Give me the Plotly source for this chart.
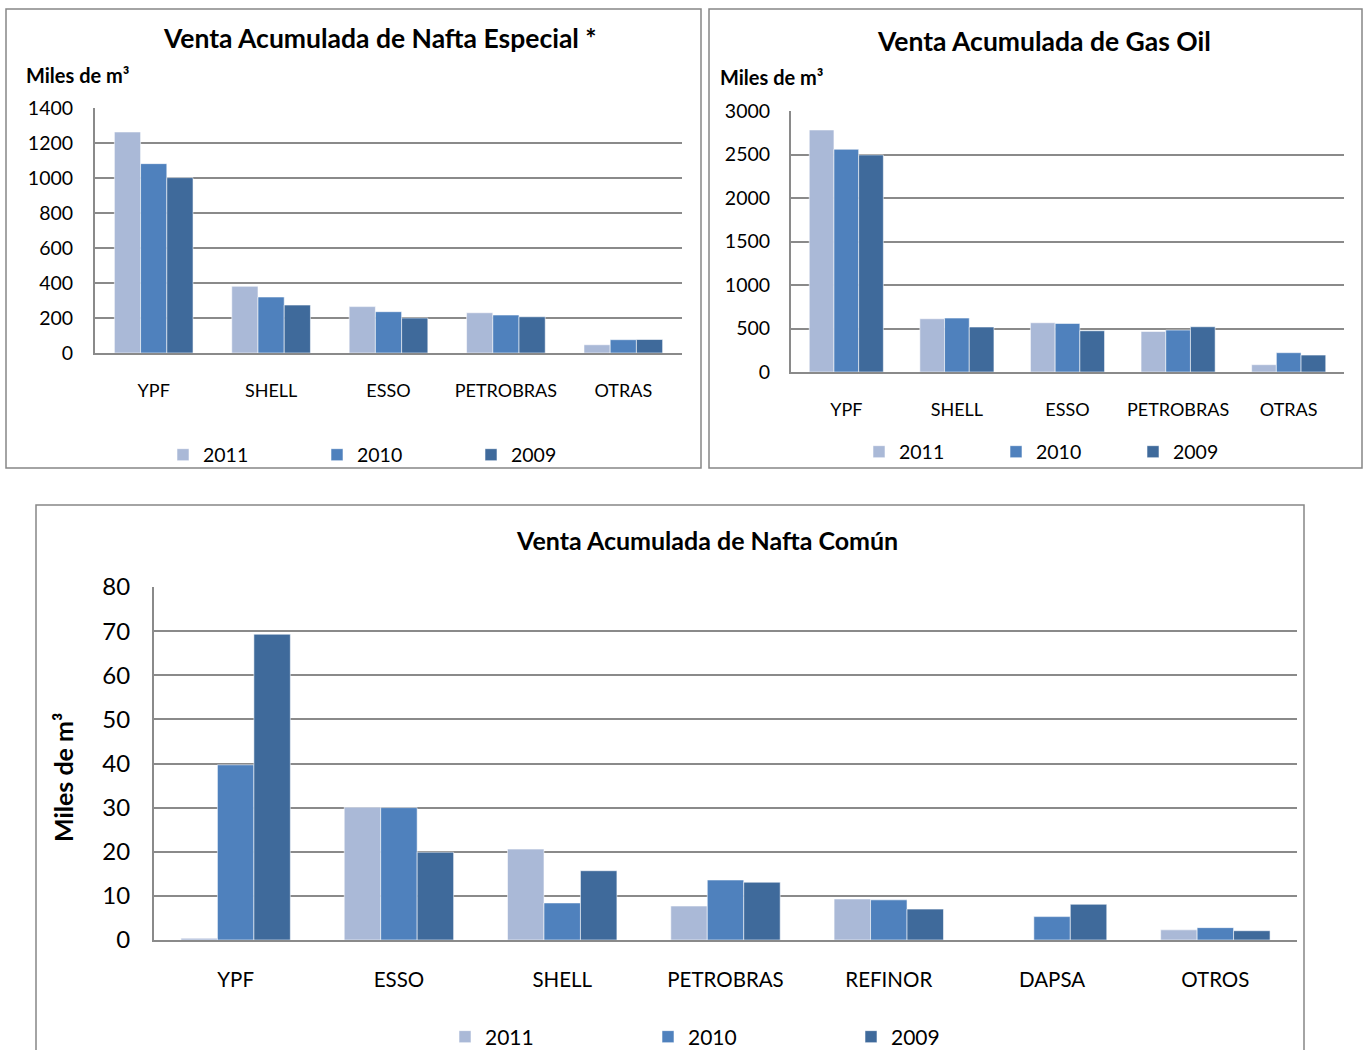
import plotly.graph_objects as go

# Data
years = ["2011", "2010", "2009"]
colors = ["#AAB9D7", "#4F81BD", "#3F6A9B"]

esp_cats = ["YPF", "SHELL", "ESSO", "PETROBRAS", "OTRAS"]
esp_2011 = [1263, 381, 265, 230, 47]
esp_2010 = [1082, 320, 236, 217, 76]
esp_2009 = [1002, 274, 200, 207, 77]

gas_cats = ["YPF", "SHELL", "ESSO", "PETROBRAS", "OTRAS"]
gas_2011 = [2782, 612, 566, 466, 84]
gas_2010 = [2560, 620, 558, 482, 222]
gas_2009 = [2495, 517, 474, 520, 195]

com_cats = ["YPF", "ESSO", "SHELL", "PETROBRAS", "REFINOR", "DAPSA", "OTROS"]
com_2011 = [0.4, 30.1, 20.6, 7.7, 9.3, 0, 2.3]
com_2010 = [39.7, 30.0, 8.4, 13.6, 9.1, 5.3, 2.8]
com_2009 = [69.3, 19.9, 15.7, 13.1, 7.0, 8.1, 2.1]

W, H = 1363, 1050
FONT = "Lato"
GRID = "#8A8A8A"


def px_x(x):
    return x / W


def px_y(y):
    return 1 - y / H


fig = go.Figure()

panels = [
    ("x", "y", esp_cats, [esp_2011, esp_2010, esp_2009], "legend"),
    ("x2", "y2", gas_cats, [gas_2011, gas_2010, gas_2009], "legend2"),
    ("x3", "y3", com_cats, [com_2011, com_2010, com_2009], "legend3"),
]
for xa, ya, cats, series, leg in panels:
    for name, vals, col in zip(years, series, colors):
        fig.add_trace(go.Bar(
            x=cats, y=vals, name=name, xaxis=xa, yaxis=ya, legend=leg,
            marker=dict(color=col, line=dict(color="rgba(255,255,255,0.7)", width=0.8)),
            hoverinfo="x+y+name",
        ))

ax_common = dict(showgrid=False, showline=True, linecolor=GRID, linewidth=2,
                 ticks="", fixedrange=True, automargin=False)
ay_common = dict(showgrid=True, gridcolor=GRID, gridwidth=1.6, showline=True,
                 linecolor=GRID, linewidth=2, zeroline=False, ticks="", fixedrange=True,
                 automargin=False)

fig.update_layout(
    width=W, height=H,
    margin=dict(l=0, r=0, t=0, b=0, autoexpand=False),
    paper_bgcolor="white", plot_bgcolor="white",
    barmode="group", bargap=0.33, bargroupgap=0,
    font=dict(family=FONT, color="black"),
    xaxis=dict(ax_common, domain=[px_x(95), px_x(682)], anchor="y",
               tickfont=dict(size=18), ticklabelstandoff=20),
    yaxis=dict(ay_common, domain=[px_y(353), px_y(108)], anchor="x",
               range=[0, 1400], dtick=200, tickfont=dict(size=19.5), ticklabelstandoff=16),
    xaxis2=dict(ax_common, domain=[px_x(791), px_x(1344)], anchor="y2",
                tickfont=dict(size=18), ticklabelstandoff=20),
    yaxis2=dict(ay_common, domain=[px_y(372), px_y(111)], anchor="x2",
                range=[0, 3000], dtick=500, tickfont=dict(size=19.5), ticklabelstandoff=15),
    xaxis3=dict(ax_common, domain=[px_x(154), px_x(1297)], anchor="y3",
                tickfont=dict(size=20.5), ticklabelstandoff=20),
    yaxis3=dict(ay_common, domain=[px_y(940), px_y(587)], anchor="x3",
                range=[0, 80], dtick=10, tickfont=dict(size=24), ticklabelstandoff=17),
    legend=dict(orientation="h", x=px_x(163), y=px_y(455), xanchor="left", yanchor="middle",
                entrywidth=109, entrywidthmode="pixels", font=dict(size=19.5),
                bgcolor="rgba(0,0,0,0)"),
    legend2=dict(orientation="h", x=px_x(859), y=px_y(452), xanchor="left", yanchor="middle",
                 entrywidth=92, entrywidthmode="pixels", font=dict(size=19.5),
                 bgcolor="rgba(0,0,0,0)"),
    legend3=dict(orientation="h", x=px_x(445), y=px_y(1037), xanchor="left", yanchor="middle",
                 entrywidth=158, entrywidthmode="pixels", font=dict(size=21),
                 bgcolor="rgba(0,0,0,0)"),
)

# panel borders
for x0, y0, x1, y1 in [(6, 9, 701, 468), (709, 9, 1362, 468), (36, 505, 1304, 1060)]:
    fig.add_shape(type="rect", xref="paper", yref="paper",
                  x0=px_x(x0), x1=px_x(x1), y0=px_y(y1), y1=px_y(y0),
                  line=dict(color="#878787", width=1.5), fillcolor="rgba(0,0,0,0)")

# titles and axis labels
labels = [
    ("<b>Venta Acumulada de Nafta Especial *</b>", 380, 38, 26.5, 0, "center"),
    ("<b>Venta Acumulada de Gas Oil</b>", 1044, 41, 26.5, 0, "center"),
    ("<b>Venta Acumulada de Nafta Común</b>", 707, 540, 25, 0, "center"),
    ("<b>Miles de m³</b>", 24, 75, 20, 0, "left"),
    ("<b>Miles de m³</b>", 718, 77, 20, 0, "left"),
    ("<b>Miles de m³</b>", 63, 778, 25, -90, "center"),
]
for text, x, y, size, angle, xanchor in labels:
    fig.add_annotation(text=text, x=px_x(x), y=px_y(y), xref="paper", yref="paper",
                       xanchor=xanchor, yanchor="middle", textangle=angle,
                       showarrow=False, font=dict(size=size))

config = {"displayModeBar": False, "displaylogo": False}
fig.write_html("out.html", config=config, post_script="document.body.style.margin='0';")
